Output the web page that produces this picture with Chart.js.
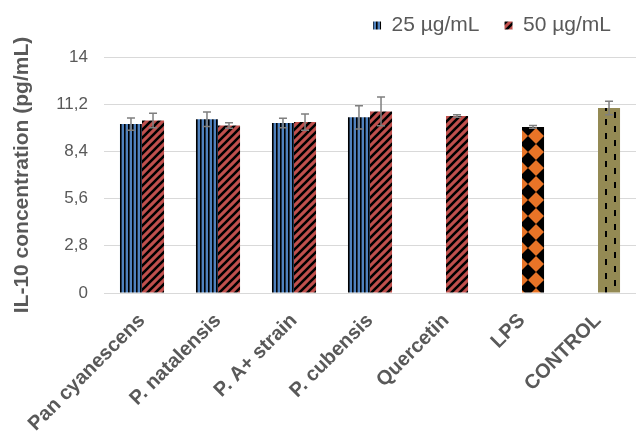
<!doctype html>
<html lang="en">
<head>
    <meta charset="UTF-8">
    <title>IL-10 concentration</title>
    <style>
        * { margin: 0; padding: 0; box-sizing: border-box; }
        body { background: #fff; }
        #wrap { width: 636px; height: 435px; }
    </style>
</head>
<body>
<div id="wrap"><canvas id="myChart"></canvas></div>

<script src="https://cdn.jsdelivr.net/npm/chart.js"></script>
<script>
    const categories = ['Pan cyanescens', 'P. natalensis', 'P. A+ strain', 'P. cubensis', 'Quercetin', 'LPS', 'CONTROL'];
    const dose25 = [10.02, 10.30, 10.08, 10.42, null, null, null];
    const dose25Err = [0.36, 0.43, 0.28, 0.69, null, null, null];
    const dose50 = [10.24, 9.94, 10.14, 10.77, 10.50, 9.85, 10.97];
    const dose50Err = [0.43, 0.16, 0.48, 0.85, 0.08, 0.08, 0.40];
    const yTicks = [0, 2.8, 5.6, 8.4, 11.2, 14];

    const FONT = 'Liberation Sans, Arial, sans-serif';

    // pattern fills like the excel ones
    function tile(w, h, draw) {
        const c = document.createElement('canvas');
        c.width = w; c.height = h;
        draw(c.getContext('2d'), w, h);
        return document.createElement('canvas').getContext('2d').createPattern(c, 'repeat');
    }

    const blueStripes = tile(4, 4, (g) => {
        g.fillStyle = '#4f81bd'; g.fillRect(0, 0, 4, 4);
        g.fillStyle = '#000'; g.fillRect(0, 0, 1.6, 4);
    });

    const redDiag = tile(8, 8, (g) => {
        g.fillStyle = '#c0504d'; g.fillRect(0, 0, 8, 8);
        g.strokeStyle = '#000'; g.lineWidth = 2.6;
        g.beginPath();
        g.moveTo(-2, 10); g.lineTo(10, -2);
        g.moveTo(-6, 6); g.lineTo(6, -6);
        g.moveTo(2, 14); g.lineTo(14, 2);
        g.stroke();
    });

    const orangeDiamond = tile(16, 16, (g) => {
        g.fillStyle = '#000'; g.fillRect(0, 0, 16, 16);
        g.fillStyle = '#e87427';
        g.beginPath();
        g.moveTo(8, 0); g.lineTo(16, 8); g.lineTo(8, 16); g.lineTo(0, 8);
        g.closePath(); g.fill();
    });

    const oliveDash = tile(18, 14, (g) => {
        g.fillStyle = '#948a54'; g.fillRect(0, 0, 18, 14);
        g.fillStyle = '#000';
        g.fillRect(2, 0, 2, 6);
        g.fillRect(11, 7, 2, 6);
    });

    const barFill50 = [redDiag, redDiag, redDiag, redDiag, redDiag, orangeDiamond, oliveDash];

    const errorBars = {
        id: 'errorBars',
        afterDatasetsDraw(chart) {
            const g = chart.ctx;
            const y = chart.scales.y;
            const errs = [dose25Err, dose50Err];
            g.save();
            g.strokeStyle = '#7f7f7f';
            g.lineWidth = 1.5;
            chart.data.datasets.forEach((ds, i) => {
                const meta = chart.getDatasetMeta(i);
                meta.data.forEach((bar, j) => {
                    const v = ds.data[j];
                    const e = errs[i][j];
                    if (v == null || e == null) return;
                    const top = y.getPixelForValue(v + e);
                    const bot = y.getPixelForValue(v - e);
                    g.beginPath();
                    g.moveTo(bar.x, top); g.lineTo(bar.x, bot);
                    g.moveTo(bar.x - 4, top); g.lineTo(bar.x + 4, top);
                    g.moveTo(bar.x - 4, bot); g.lineTo(bar.x + 4, bot);
                    g.stroke();
                });
            });
            g.restore();
        }
    };

    // extra room under the legend
    const legendGap = {
        id: 'legendGap',
        beforeLayout(chart) {
            const leg = chart.legend;
            if (leg && !leg._gapped) {
                const fit = leg.fit;
                leg.fit = function () { fit.call(this); this.height += 11; };
                leg._gapped = true;
            }
        }
    };

    const data = {
        labels: categories,
        datasets: [{
            label: '25 µg/mL',
            data: dose25,
            backgroundColor: blueStripes
        }, {
            label: '50 µg/mL',
            data: dose50,
            backgroundColor: (ctx) => ctx.dataIndex === undefined ? redDiag : barFill50[ctx.dataIndex]
        }]
    };

    const config = {
        type: 'bar',
        data: data,
        plugins: [errorBars, legendGap],
        options: {
            responsive: true,
            maintainAspectRatio: false,
            animation: false,
            categoryPercentage: 0.58,
            barPercentage: 1,
            layout: { padding: { top: -10, right: 0, left: 10, bottom: 0 } },
            plugins: {
                tooltip: { enabled: false },
                legend: {
                    position: 'top',
                    align: 'end',
                    labels: {
                        boxWidth: 8,
                        boxHeight: 8,
                        padding: 25,
                        color: '#595959',
                        font: { family: FONT, size: 21 }
                    }
                }
            },
            scales: {
                x: {
                    grid: { display: false },
                    border: { color: '#d9d9d9' },
                    ticks: {
                        color: '#595959',
                        maxRotation: 45,
                        minRotation: 45,
                        padding: 8,
                        font: { family: FONT, size: 20, weight: 'bold' }
                    },
                    afterFit: (s) => { s.height = 142; }
                },
                y: {
                    min: 0,
                    max: 14,
                    border: { display: false },
                    grid: { color: '#d9d9d9', drawTicks: false },
                    afterBuildTicks: (s) => { s.ticks = yTicks.map(v => ({ value: v })); },
                    afterFit: (s) => { s.width = 94; },
                    ticks: {
                        color: '#595959',
                        padding: 16,
                        font: { family: FONT, size: 17 },
                        callback: (v) => (Math.round(v * 10) / 10).toString().replace('.', ',')
                    },
                    title: {
                        display: true,
                        text: 'IL-10 concentration (pg/mL)',
                        color: '#595959',
                        padding: { top: 0, bottom: 0 },
                        font: { family: FONT, size: 21, weight: 'bold' }
                    }
                }
            }
        }
    };

    const myChart = new Chart(document.getElementById('myChart'), config);
</script>
</body>
</html>
